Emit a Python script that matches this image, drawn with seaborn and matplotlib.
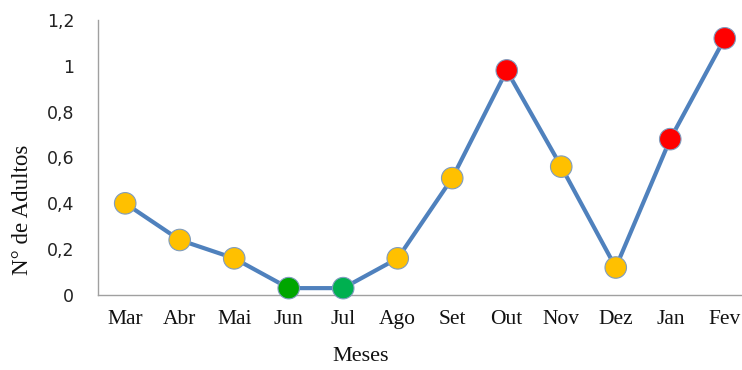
import numpy as np
import pandas as pd
import matplotlib
matplotlib.use("Agg")
import matplotlib.pyplot as plt
import seaborn as sns

months = ["Mar", "Abr", "Mai", "Jun", "Jul", "Ago", "Set", "Out", "Nov", "Dez", "Jan", "Fev"]
adults = [0.40, 0.24, 0.16, 0.03, 0.03, 0.16, 0.51, 0.98, 0.56, 0.12, 0.68, 1.12]
point_colors = ["#FFC000", "#FFC000", "#FFC000", "#00A600", "#00B050", "#FFC000",
                "#FFC000", "#FF0000", "#FFC000", "#FFC000", "#FF0000", "#FF0000"]
y_ticks = [0, 0.2, 0.4, 0.6, 0.8, 1.0, 1.2]
y_tick_labels = ["0", "0,2", "0,4", "0,6", "0,8", "1", "1,2"]

sns.set_style("white")
plt.rcParams["font.family"] = ["DejaVu Sans"]

df = pd.DataFrame({"pos": np.arange(len(months)), "mes": months, "adultos": adults})

fig = plt.figure(figsize=(7.42, 3.70), dpi=100)
ax = fig.add_axes([0.132, 0.2027, 0.8815, 0.7433])

sns.lineplot(data=df, x="pos", y="adultos", ax=ax, color="#4F81BD", linewidth=3.0,
             sort=False, zorder=2)
sns.scatterplot(data=df, x="pos", y="adultos", hue="mes", palette=point_colors,
                ax=ax, s=240, edgecolor="#7F9CBF", linewidth=0.8, legend=False, zorder=3)

ax.set_xlim(-0.5, len(months) - 0.5)
ax.set_ylim(0, 1.2)
ax.set_yticks(y_ticks)
ax.set_yticklabels(y_tick_labels, fontsize=12.5, color="#222222")
ax.set_xticks(np.arange(len(months)))
ax.set_xticklabels(months, fontsize=15.5, family="Liberation Serif", color="#111111")
ax.set_xticks(np.arange(len(months)) - 0.5, minor=True)
ax.tick_params(axis="x", which="major", length=0, pad=11)
ax.tick_params(axis="x", which="minor", length=6, color="#A0A0A0", width=1)
ax.tick_params(axis="y", length=6, color="#A0A0A0", width=1, pad=11)
for side in ["top", "right"]:
    ax.spines[side].set_visible(False)
for side in ["left", "bottom"]:
    ax.spines[side].set_color("#A0A0A0")
    ax.spines[side].set_linewidth(1)

ax.set_xlabel("Meses", fontsize=16, family="Liberation Serif", color="#111111")
ax.set_ylabel("N° de Adultos", fontsize=16.5, family="Liberation Serif", color="#111111")
ax.xaxis.set_label_coords(0.402, -0.19)
ax.yaxis.set_label_coords(-0.10, 0.31)

for m in ax.collections:
    m.set_clip_on(False)

fig.savefig("out.png", dpi=100)
